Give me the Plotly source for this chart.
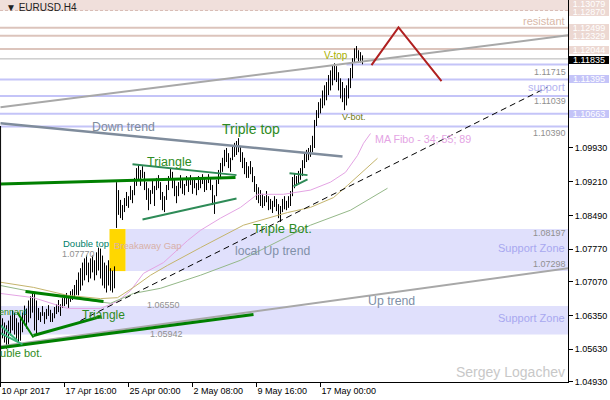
import plotly.graph_objects as go

# ---------------- data ----------------
bar_high = [1.0629, 1.0620, 1.0614, 1.0624, 1.0635, 1.0646, 1.0641, 1.0629, 1.0620, 1.0629,
            1.0641, 1.0656, 1.0650, 1.0667, 1.0676, 1.0684, 1.0682, 1.0667,
            1.0651, 1.0642, 1.0655, 1.0642, 1.0649, 1.0657, 1.0647, 1.0640, 1.0653, 1.0659,
            1.0668, 1.0659, 1.0672, 1.0677, 1.0683, 1.0674, 1.0687, 1.0691, 1.0700, 1.0711,
            1.0727, 1.0736, 1.0748, 1.0757, 1.0763, 1.0748, 1.0757, 1.0763, 1.0753, 1.0770,
            1.0780, 1.0778, 1.0763, 1.0748, 1.0742, 1.0753, 1.0736, 1.0731, 1.0740,
            1.0920, 1.0903, 1.0882, 1.0871, 1.0886, 1.0899, 1.0890, 1.0912, 1.0903, 1.0929,
            1.0950, 1.0957, 1.0946, 1.0954, 1.0942, 1.0920, 1.0907, 1.0903, 1.0925, 1.0912,
            1.0929, 1.0935, 1.0920, 1.0899, 1.0890, 1.0914, 1.0933, 1.0950, 1.0942, 1.0925,
            1.0912, 1.0920, 1.0935, 1.0925, 1.0916, 1.0933, 1.0925, 1.0935, 1.0925, 1.0929,
            1.0918, 1.0933, 1.0929, 1.0937, 1.0929, 1.0925, 1.0937, 1.0931, 1.0914, 1.0892,
            1.0925, 1.0946, 1.0961, 1.0972,
            1.0989, 1.0993, 1.0982, 1.0972, 1.0997, 1.1004, 1.1008, 1.1014, 1.0997, 1.0984,
            1.0972, 1.0963, 1.0954, 1.0965, 1.0952, 1.0933, 1.0916, 1.0909, 1.0903, 1.0895,
            1.0890, 1.0901, 1.0890, 1.0884, 1.0880, 1.0890, 1.0884, 1.0873, 1.0869, 1.0884,
            1.0890, 1.0880, 1.0890, 1.0901, 1.0931, 1.0939, 1.0933, 1.0944, 1.0950, 1.0967,
            1.0982, 1.0989, 1.0993, 1.0999, 1.1019, 1.1053, 1.1074, 1.1091,
            1.1099, 1.1116, 1.1127, 1.1134, 1.1149, 1.1159, 1.1170, 1.1174, 1.1168, 1.1155,
            1.1142, 1.1134, 1.1121, 1.1127, 1.1142, 1.1164, 1.1185, 1.1206, 1.1211, 1.1202,
            1.1198, 1.1191]
bar_low = [1.0586, 1.0577, 1.0564, 1.0571, 1.0592, 1.0603, 1.0594, 1.0581, 1.0571, 1.0581,
           1.0599, 1.0614, 1.0607, 1.0620, 1.0629, 1.0641, 1.0603, 1.0592,
           1.0625, 1.0621, 1.0634, 1.0617, 1.0627, 1.0634, 1.0621, 1.0621, 1.0629, 1.0638,
           1.0642, 1.0634, 1.0651, 1.0655, 1.0659, 1.0651, 1.0664, 1.0668, 1.0672, 1.0679,
           1.0678, 1.0688, 1.0699, 1.0710, 1.0721, 1.0706, 1.0714, 1.0727, 1.0710, 1.0721,
           1.0731, 1.0714, 1.0699, 1.0693, 1.0684, 1.0699, 1.0688, 1.0684, 1.0693,
           1.0822, 1.0850, 1.0843, 1.0839, 1.0856, 1.0869, 1.0865, 1.0882, 1.0875, 1.0892,
           1.0912, 1.0925, 1.0912, 1.0929, 1.0903, 1.0882, 1.0860, 1.0873, 1.0895, 1.0869,
           1.0903, 1.0907, 1.0882, 1.0860, 1.0856, 1.0882, 1.0903, 1.0925, 1.0907, 1.0890,
           1.0875, 1.0890, 1.0907, 1.0895, 1.0892, 1.0912, 1.0899, 1.0914, 1.0895, 1.0907,
           1.0892, 1.0903, 1.0907, 1.0916, 1.0899, 1.0903, 1.0918, 1.0903, 1.0871, 1.0852,
           1.0890, 1.0916, 1.0929, 1.0942,
           1.0954, 1.0963, 1.0950, 1.0942, 1.0967, 1.0974, 1.0978, 1.0984, 1.0963, 1.0950,
           1.0937, 1.0929, 1.0929, 1.0937, 1.0920, 1.0899, 1.0882, 1.0875, 1.0869, 1.0865,
           1.0869, 1.0877, 1.0860, 1.0862, 1.0854, 1.0867, 1.0858, 1.0843, 1.0835, 1.0856,
           1.0862, 1.0860, 1.0865, 1.0869, 1.0890, 1.0907, 1.0912, 1.0918, 1.0925, 1.0933,
           1.0950, 1.0963, 1.0967, 1.0974, 1.0984, 1.0993, 1.1040, 1.1057,
           1.1067, 1.1078, 1.1084, 1.1095, 1.1106, 1.1116, 1.1127, 1.1138, 1.1134, 1.1116,
           1.1099, 1.1091, 1.1074, 1.1084, 1.1099, 1.1121, 1.1142, 1.1176, 1.1185, 1.1176,
           1.1176, 1.1172]
bar_index = list(range(len(bar_high)))

x_tick_bars = [-1, 31, 63, 95, 127, 159]
x_tick_labels = ["10 Apr 2017", "17 Apr 16:00", "25 Apr 00:00", "2 May 08:00", "9 May 16:00", "17 May 00:00"]
y_tick_values = [1.0493, 1.0563, 1.0635, 1.0707, 1.0777, 1.0849, 1.0921, 1.0993]

resistance_levels = [1.12499, 1.12329, 1.12044]
support_levels = [1.11395, 1.11039, 1.10663, 1.10390]
late_support_level = 1.11715
late_support_start = 172
bid_price = 1.11835
resistance_zone = [1.12870, 1.13079]
support_zone_upper = [1.07298, 1.08197]
support_zone_lower = [1.05942, 1.06550]
gap_bars = [53.5, 61.5]
support_zone_upper_start = 61.5

ma34_bars = [-1, 15.5, 32.5, 49, 57.5, 64, 70.5, 80.5, 92.5, 99, 109, 119, 127.5, 140.5, 154, 164, 171.5, 177.5, 180.5, 184]
ma34_vals = [1.0682, 1.0673, 1.0650, 1.0650, 1.0665, 1.0688, 1.0725, 1.0748, 1.0795, 1.0817, 1.0843, 1.0866, 1.0894, 1.0894, 1.0903, 1.0920, 1.0941, 1.0977, 1.1003, 1.1024]
ma55_bars = [-1, 15.5, 32.5, 49, 57.5, 65.5, 74, 82.5, 99, 120.5, 142.5, 154, 165.5, 172.5, 187.5]
ma55_vals = [1.0706, 1.0695, 1.0678, 1.0671, 1.0673, 1.0695, 1.0721, 1.0742, 1.0780, 1.0828, 1.0855, 1.0866, 1.0887, 1.0913, 1.0971]
ma89_bars = [-1, 24, 54, 65.5, 79, 99, 119, 134, 154, 174, 192.5]
ma89_vals = [1.0699, 1.0678, 1.0661, 1.0682, 1.0693, 1.0721, 1.0753, 1.0785, 1.0828, 1.0860, 1.0907]

# trend lines: (bars, prices)
up_trend_upper = ([-1, 283], [1.1080, 1.1234])
up_trend_lower = ([-1, 283], [1.0569, 1.0736])
green_support = ([-1, 125.5], [1.0566, 1.0637])
down_trend = ([-1, 170], [1.1046, 1.0975])
green_flat = ([-1, 116.5], [1.0916, 1.0930])
tri_up_top = ([65, 117], [1.0958, 1.0935])
tri_up_bot = ([70, 117], [1.0840, 1.0885])
tri_small_top = ([143.5, 152.5], [1.0939, 1.0935])
tri_small_bot = ([145.5, 152.5], [1.0911, 1.0926])
tri_low_top = ([11.5, 50.5], [1.0686, 1.0665])
tri_low_bot = ([15.5, 49.5], [1.0592, 1.0633])
pennant_line = ([7.5, 15.5], [1.0641, 1.0588])
pennant_teal1 = ([-1, 7.5], [1.0614, 1.0581])
pennant_teal2 = ([-1, 10], [1.0597, 1.0573])
local_up_trend = ([39, 272.5], [1.0624, 1.1123])
projection = ([184.5, 198, 219.5], [1.1170, 1.1251, 1.1136])

# ---------------- figure ----------------
FONT = "Liberation Sans, Arial, sans-serif"
W, H = 568, 382
fig = go.Figure()

# bars
bx, by = [], []
for i, h, l in zip(bar_index, bar_high, bar_low):
    bx += [i, i, None]
    by += [l, h, None]
fig.add_trace(go.Scatter(x=bx, y=by, mode="lines", line=dict(color="black", width=1),
                         hoverinfo="skip", showlegend=False))

def add_line(data, color, width, dash=None):
    fig.add_trace(go.Scatter(x=data[0], y=data[1], mode="lines",
                             line=dict(color=color, width=width, dash=dash),
                             hoverinfo="skip", showlegend=False))

add_line((ma34_bars, ma34_vals), "#e4a4e4", 1)
add_line((ma55_bars, ma55_vals), "#c4b46c", 1)
add_line((ma89_bars, ma89_vals), "#94b888", 1)
add_line(up_trend_upper, "#a8a8a8", 2)
add_line(up_trend_lower, "#a8a8a8", 2)
add_line(green_support, "#008000", 3)
add_line(down_trend, "#7f8c9c", 2.5)
add_line(green_flat, "#008000", 3)
add_line(tri_up_top, "#2e8b57", 2)
add_line(tri_up_bot, "#2e8b57", 2)
add_line(tri_small_top, "#2e8b57", 2)
add_line(tri_small_bot, "#2e8b57", 2)
add_line(tri_low_top, "#008000", 3)
add_line(tri_low_bot, "#008000", 3)
add_line(pennant_line, "#008000", 2)
add_line(pennant_teal1, "#3cb37a", 2)
add_line(pennant_teal2, "#3cb37a", 2)
add_line(local_up_trend, "black", 1, "6px,4px")
add_line(projection, "#b02020", 2)

shapes = []
# zones
shapes.append(dict(type="rect", xref="paper", yref="y", x0=0, x1=1, y0=resistance_zone[0], y1=resistance_zone[1] + 0.001,
                   fillcolor="#f0dfdb", line=dict(width=0), layer="below"))
shapes.append(dict(type="line", xref="paper", yref="y", x0=0, x1=1, y0=resistance_zone[0], y1=resistance_zone[0],
                   line=dict(color="#d8bcb4", width=1, dash="3px,2px"), layer="below"))
shapes.append(dict(type="rect", xref="x", yref="y", x0=support_zone_upper_start, x1=290, y0=support_zone_upper[0], y1=support_zone_upper[1],
                   fillcolor="#e0e0fc", line=dict(width=0), layer="below"))
shapes.append(dict(type="rect", xref="paper", yref="y", x0=0, x1=1, y0=support_zone_lower[0], y1=support_zone_lower[1],
                   fillcolor="#e0e0fc", line=dict(width=0), layer="below"))
shapes.append(dict(type="rect", xref="x", yref="y", x0=gap_bars[0], x1=gap_bars[1], y0=support_zone_upper[0], y1=support_zone_upper[1],
                   fillcolor="#ffd700", line=dict(width=0), layer="below"))
for lv in resistance_levels:
    shapes.append(dict(type="line", xref="paper", yref="y", x0=0, x1=1, y0=lv, y1=lv,
                       line=dict(color="#dcc4bc", width=2), layer="below"))
for lv in support_levels:
    shapes.append(dict(type="line", xref="paper", yref="y", x0=0, x1=1, y0=lv, y1=lv,
                       line=dict(color="#c4c4f8", width=2), layer="below"))
shapes.append(dict(type="line", xref="x", yref="y", x0=late_support_start, x1=290, y0=late_support_level, y1=late_support_level,
                   line=dict(color="#c4c4f8", width=2), layer="below"))
shapes.append(dict(type="line", xref="paper", yref="y", x0=0, x1=1, y0=bid_price, y1=bid_price,
                   line=dict(color="#b4b4b4", width=1), layer="below"))
shapes.append(dict(type="line", xref="paper", yref="paper", x0=0.001, x1=0.001, y0=0, y1=(H - 126) / H,
                   line=dict(color="black", width=1)))

def txt(s, x, y, size, color, anchor="left"):
    fig.add_annotation(text=s, x=x / W, y=1 - y / H, xref="paper", yref="paper",
                       xanchor=anchor, yanchor="middle", showarrow=False,
                       font=dict(size=size, color=color, family=FONT), borderpad=0)

GREEN = "#2e8b22"
TREND = "#8090a8"
GRAY = "#909090"
txt("▼ EURUSD.H4", 5, 7, 10, "#202020")
txt("resistant", 566, 21, 11, "#d8b8a8", "right")
txt("1.11715", 567, 72, 9, GRAY, "right")
txt("support", 566, 87.5, 11, "#b4b4f0", "right")
txt("1.11039", 567, 100.5, 9, GRAY, "right")
txt("1.10390", 567, 133.5, 9, GRAY, "right")
txt("V-top", 323, 55, 10, "#a8b000")
txt("V-bot.", 341, 117, 9, "#707a10")
txt("Down trend", 91, 127, 12.3, "#7f8c9c")
txt("Triple top", 221, 129, 14, GREEN)
txt("MA Fibo - 34; 55; 89", 374, 139, 10.7, "#e4a4e4")
txt("Triangle", 146, 162, 12.5, GREEN)
txt("Triple Bot.", 252, 228, 13, GREEN)
txt("Double top", 62, 243, 9.5, "#00806a")
txt("Breakaway Gap", 113, 245, 9.5, "#d8b0a8")
txt("1.08197", 567, 233, 9, GRAY, "right")
txt("Support Zone", 566, 248.5, 11, "#a8a8f0", "right")
txt("1.07770", 61, 254, 9, GRAY)
txt("local Up trend", 234, 251, 12.2, TREND)
txt("1.07298", 567, 263.5, 9, GRAY, "right")
txt("Up trend", 367, 301, 12.3, TREND)
txt("1.06550", 146, 305, 9, GRAY)
txt("Pennant", 28, 312, 9, GREEN, "right")
txt("Triangle", 81, 315, 12, GREEN)
txt("Support Zone", 566, 317.5, 11, "#a8a8f0", "right")
txt("1.05942", 149, 334, 9, GRAY)
txt("Double bot.", 43, 353, 11, GREEN, "right")
txt("Sergey Logachev", 566, 371.5, 14, "#c8c8c8", "right")

# right-side price boxes
def box(price, bg, fg, shift=0):
    fig.add_annotation(text=f"{price:.5f}", x=1 + 1 / W, xref="paper", y=price, yref="y",
                       xanchor="left", yanchor="middle", showarrow=False, yshift=shift,
                       width=40, height=8, bgcolor=bg, borderpad=0, borderwidth=0, align="center",
                       font=dict(size=9, color=fg, family=FONT))

box(resistance_zone[1], "#ecd8d2", "white", -3)
box(resistance_zone[0], "#ecd8d2", "white", -2)
for lv in resistance_levels:
    box(lv, "#ecd8d2", "white", -1 if lv < 1.121 else 0)
box(bid_price, "black", "white", -1)
box(support_levels[0], "#c4c4f8", "white")
box(support_levels[2], "#c4c4f8", "white")

fig.update_layout(
    width=610, height=400,
    margin=dict(l=0, r=42, t=0, b=18, autoexpand=False),
    paper_bgcolor="white", plot_bgcolor="white",
    showlegend=False, shapes=shapes,
    font=dict(family=FONT, size=9, color="black"),
    xaxis=dict(range=[-1.25, 282.75], showgrid=False, zeroline=False,
               showline=True, linecolor="black", linewidth=1,
               ticks="outside", ticklen=4, tickcolor="black",
               tickvals=x_tick_bars, ticktext=x_tick_labels,
               ticklabelposition="outside right", automargin=False,
               tickfont=dict(size=9, color="black", family=FONT)),
    yaxis=dict(range=[1.04927, 1.13094], side="right", showgrid=False, zeroline=False,
               showline=True, linecolor="black", linewidth=1,
               ticks="outside", ticklen=4, tickcolor="black",
               tickvals=y_tick_values, tickformat=".5f", automargin=False,
               tickfont=dict(size=9, color="black", family=FONT)),
)

fig.write_html("out.html", config={"displayModeBar": False},
               post_script="document.body.style.margin='0';document.body.style.overflow='hidden';")
